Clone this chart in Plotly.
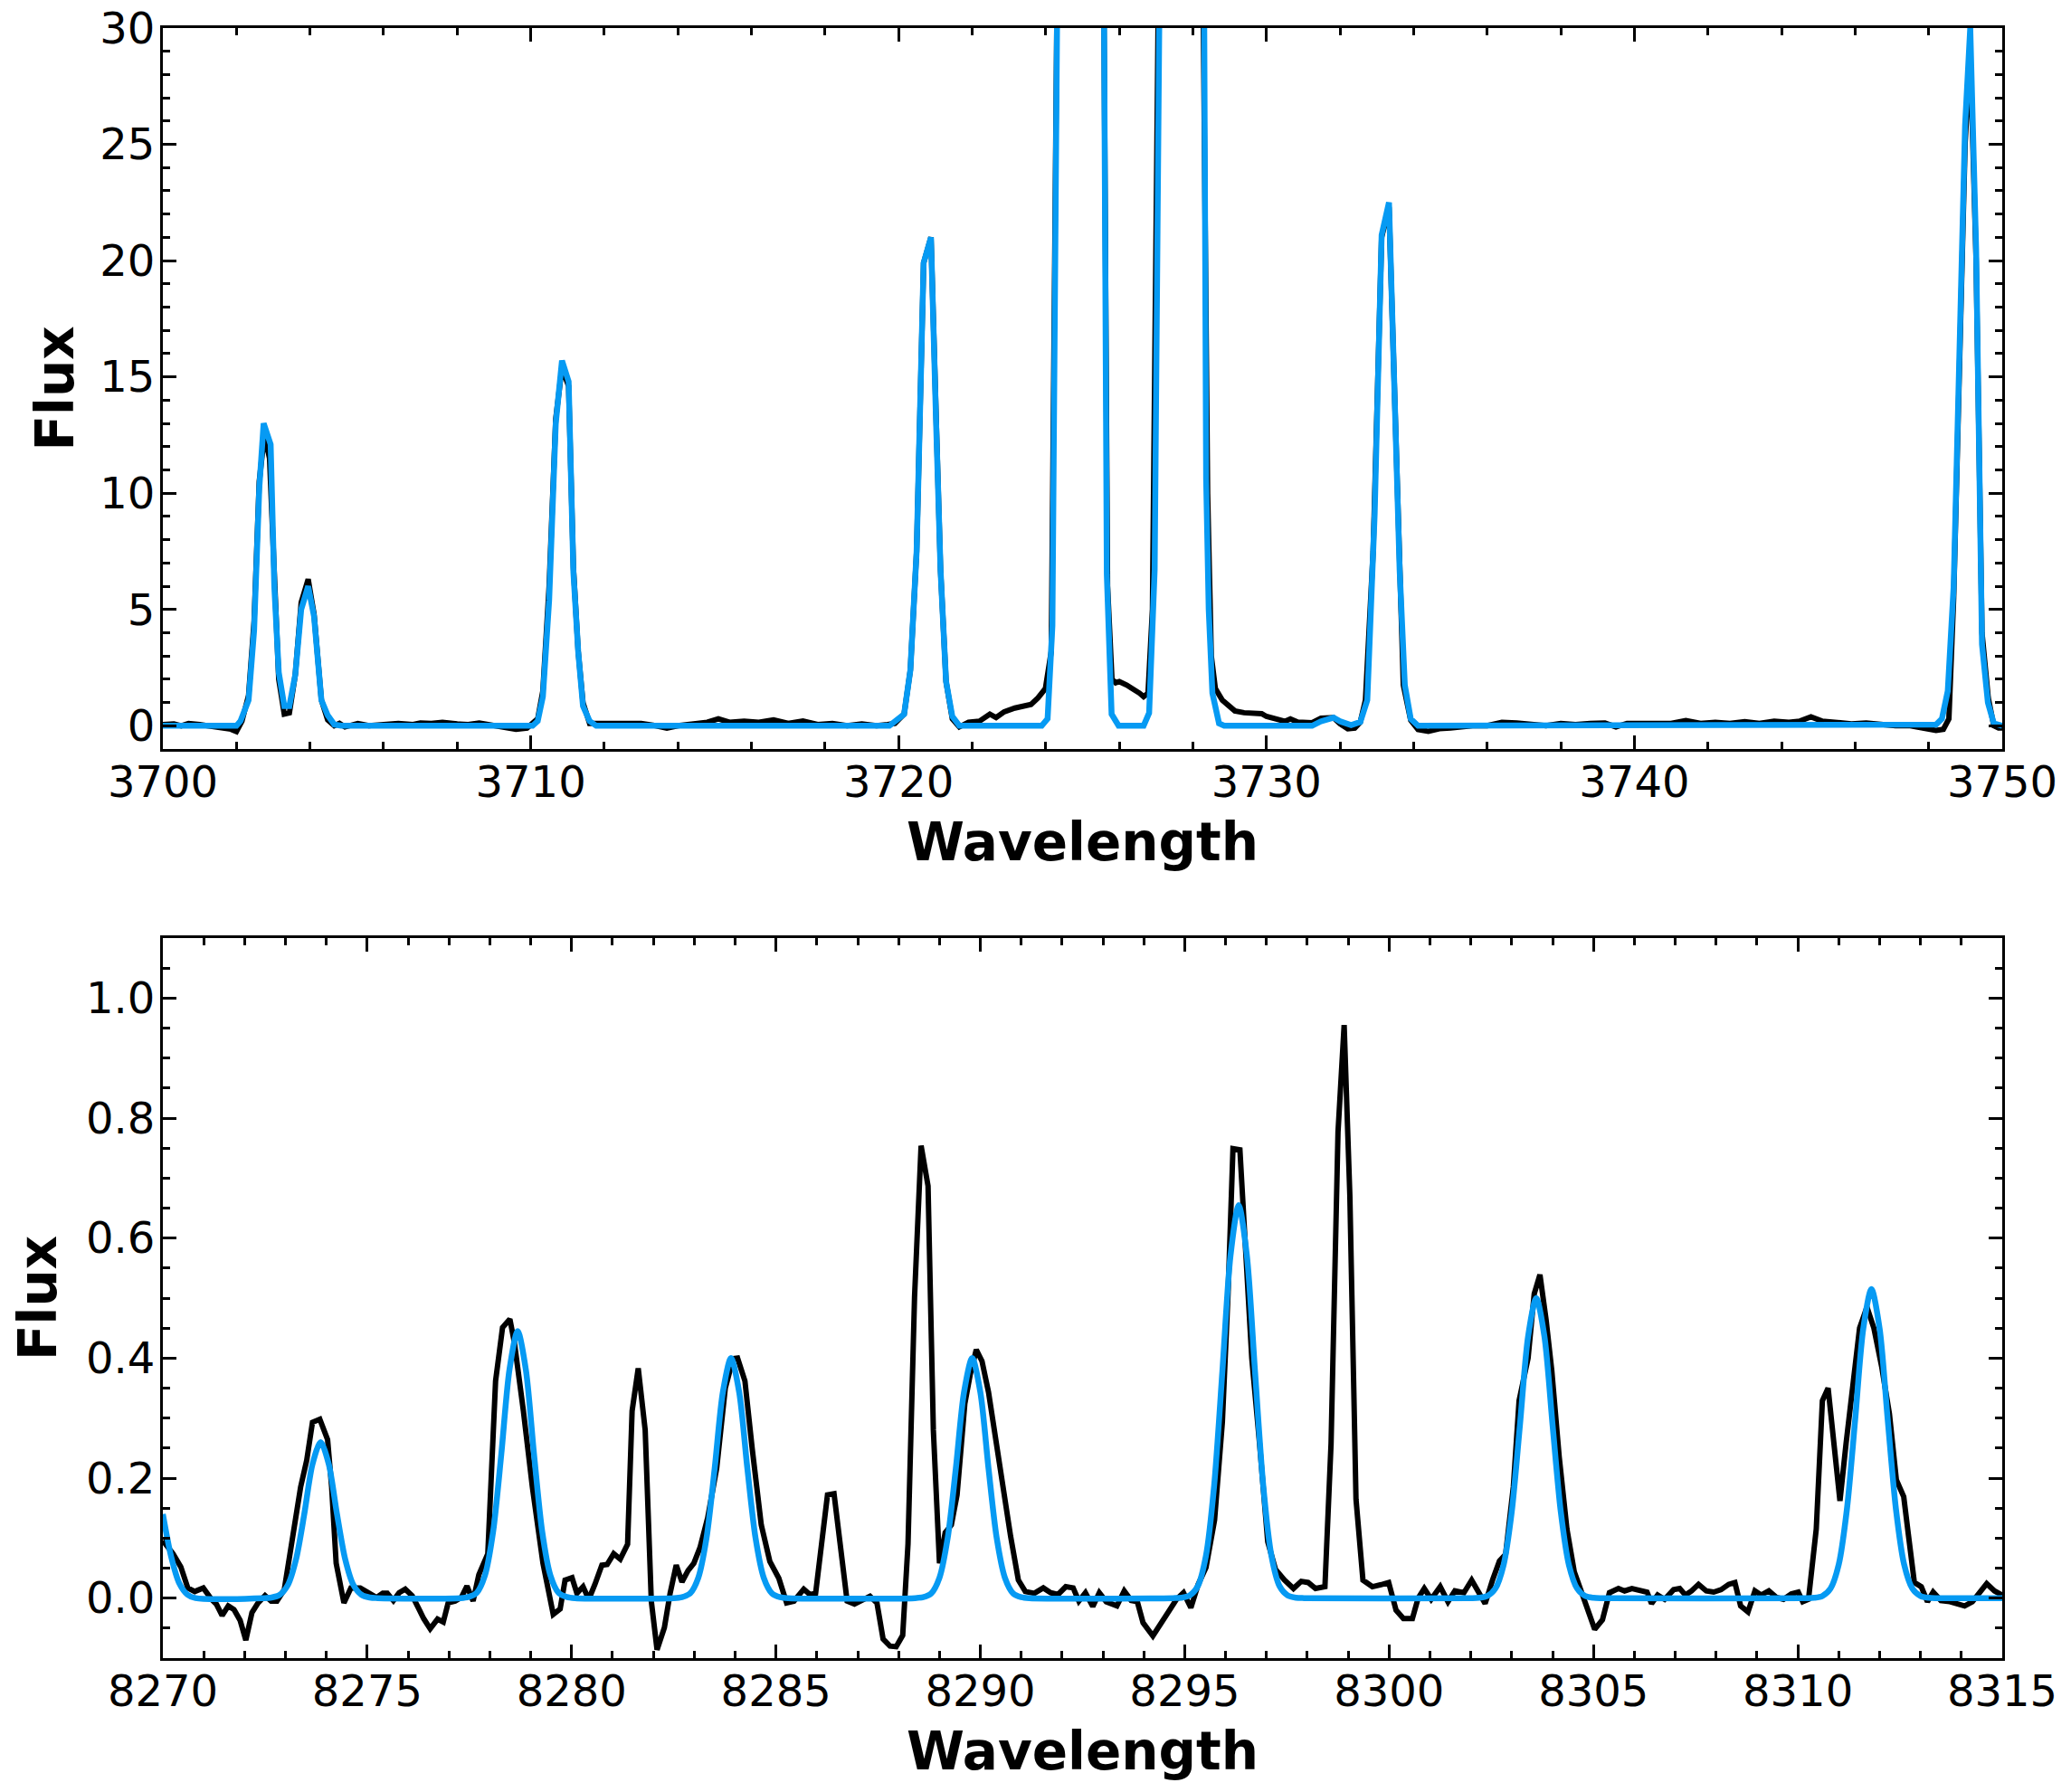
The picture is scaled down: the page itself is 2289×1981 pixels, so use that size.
import plotly.graph_objects as go
from plotly.subplots import make_subplots

# --- top panel: [OII] 3727 region ---
top_wave_obs = [
    3700.0, 3700.3, 3700.5, 3700.7, 3701.0, 3701.3, 3701.6, 3701.85, 3702.0, 3702.15,
    3702.33, 3702.48, 3702.62, 3702.76, 3702.9, 3703.03, 3703.15, 3703.3, 3703.44, 3703.6,
    3703.76, 3703.95, 3704.11, 3704.31, 3704.48, 3704.66, 3704.8, 3704.95, 3705.3, 3705.6,
    3706.0, 3706.4, 3706.8, 3707.0, 3707.3, 3707.6, 3708.0, 3708.3, 3708.6, 3709.0,
    3709.3, 3709.6, 3709.9, 3710.05, 3710.19, 3710.33, 3710.5, 3710.68, 3710.85, 3711.03,
    3711.16, 3711.29, 3711.42, 3711.6, 3711.75, 3712.0, 3712.3, 3712.6, 3713.0, 3713.4,
    3713.7, 3714.0, 3714.4, 3714.8, 3715.1, 3715.4, 3715.8, 3716.2, 3716.6, 3717.0,
    3717.4, 3717.8, 3718.2, 3718.6, 3719.0, 3719.4, 3719.7, 3719.9, 3720.15, 3720.32,
    3720.49, 3720.68, 3720.88, 3721.02, 3721.14, 3721.29, 3721.46, 3721.65, 3721.9, 3722.2,
    3722.48, 3722.65, 3722.87, 3723.16, 3723.4, 3723.6, 3723.79, 3723.99, 3724.15, 3724.3,
    3724.5, 3724.7, 3724.95, 3725.2, 3725.4, 3725.58, 3725.68, 3725.8, 3725.9, 3726.0,
    3726.2, 3726.37, 3726.55, 3726.66, 3726.78, 3726.9, 3727.05, 3727.3, 3727.55, 3727.8,
    3728.05, 3728.27, 3728.4, 3728.5, 3728.61, 3728.8, 3729.0, 3729.14, 3729.39, 3729.87,
    3730.0, 3730.26, 3730.5, 3730.65, 3730.85, 3731.24, 3731.48, 3731.82, 3732.0, 3732.21,
    3732.4, 3732.55, 3732.69, 3732.9, 3733.13, 3733.33, 3733.47, 3733.6, 3733.72, 3733.92,
    3734.12, 3734.4, 3734.7, 3735.0, 3735.3, 3735.6, 3736.0, 3736.4, 3736.8, 3737.2,
    3737.6, 3738.0, 3738.4, 3738.8, 3739.2, 3739.5, 3739.8, 3740.2, 3740.6, 3741.0,
    3741.4, 3741.8, 3742.2, 3742.6, 3743.0, 3743.4, 3743.8, 3744.2, 3744.5, 3744.8,
    3745.1, 3745.5, 3745.9, 3746.3, 3746.7, 3747.1, 3747.5, 3747.9, 3748.2, 3748.4,
    3748.55, 3748.68, 3748.99, 3749.13, 3749.29, 3749.45, 3749.62, 3749.77, 3749.9, 3750.0,
]
top_flux_obs = [
    0.05, 0.08, 0.0, 0.1, 0.05, 0.0, -0.05, -0.15, -0.25, 0.2,
    1.3, 4.5, 10.5, 12.5, 11.5, 6.0, 2.0, 0.5, 0.55, 2.2,
    5.3, 6.3, 4.8, 1.1, 0.25, 0.0, 0.1, -0.05, 0.1, 0.0,
    0.05, 0.1, 0.05, 0.12, 0.1, 0.15, 0.08, 0.05, 0.12, 0.0,
    -0.1, -0.15, -0.1, 0.1, 0.3, 1.5, 6.0, 13.2, 15.4, 14.6,
    6.8, 3.2, 1.0, 0.1, 0.1, 0.05, 0.1, 0.05, 0.1, 0.0,
    -0.1, 0.0, 0.1, 0.15, 0.3, 0.15, 0.2, 0.15, 0.25, 0.1,
    0.2, 0.05, 0.1, 0.0, 0.08, 0.0, 0.05, 0.1, 0.5, 2.4,
    7.5, 19.9, 21.0, 13.0, 6.7, 1.9, 0.3, -0.05, 0.15, 0.2,
    0.5, 0.35, 0.6, 0.76, 0.87, 0.92, 1.2, 1.6, 3.2, 32.0,
    66.0, 88.0, 96.0, 86.0, 61.0, 31.0, 6.0, 2.0, 1.85, 1.9,
    1.75, 1.6, 1.4, 1.25, 1.4, 5.0, 30.0, 71.0, 96.0, 96.0,
    71.0, 31.0, 10.0, 3.0, 1.6, 1.1, 0.87, 0.64, 0.56, 0.52,
    0.4, 0.32, 0.19, 0.29, 0.16, 0.13, 0.32, 0.35, 0.08, -0.13,
    -0.1, 0.16, 1.1, 7.5, 21.0, 22.3, 15.4, 7.5, 1.75, 0.24,
    -0.16, -0.24, -0.13, -0.1, -0.05, 0.0, 0.0, 0.15, 0.12, 0.05,
    0.0, 0.1, 0.05, 0.1, 0.12, -0.05, 0.1, 0.1, 0.12, 0.1,
    0.22, 0.1, 0.15, 0.1, 0.18, 0.1, 0.2, 0.15, 0.2, 0.38,
    0.2, 0.15, 0.08, 0.12, 0.05, 0.0, 0.0, -0.1, -0.2, -0.15,
    0.3, 5.5, 25.0, 29.0, 20.0, 4.0, 1.2, 0.0, -0.1, -0.1,
]

top_wave_fit = [
    3700.0, 3702.0, 3702.11, 3702.33, 3702.48, 3702.62, 3702.74, 3702.93, 3703.03, 3703.15,
    3703.3, 3703.44, 3703.6, 3703.76, 3703.95, 3704.11, 3704.31, 3704.48, 3704.66, 3704.85,
    3710.05, 3710.19, 3710.33, 3710.5, 3710.68, 3710.85, 3711.03, 3711.16, 3711.29, 3711.42,
    3711.6, 3711.78, 3719.75, 3719.9, 3720.15, 3720.32, 3720.49, 3720.68, 3720.88, 3721.02,
    3721.14, 3721.29, 3721.46, 3721.65, 3723.89, 3724.05, 3724.18, 3724.33, 3724.5, 3724.7,
    3724.95, 3725.2, 3725.4, 3725.58, 3725.66, 3725.79, 3725.98, 3726.66, 3726.81, 3726.96,
    3727.1, 3727.3, 3727.55, 3727.8, 3728.05, 3728.3, 3728.36, 3728.43, 3728.53, 3728.71,
    3728.85, 3731.24, 3731.48, 3731.82, 3732.0, 3732.3, 3732.55, 3732.74, 3732.94, 3733.13,
    3733.33, 3733.47, 3733.62, 3733.76, 3733.92, 3734.12, 3747.8, 3748.2, 3748.36, 3748.52,
    3748.68, 3748.99, 3749.13, 3749.29, 3749.45, 3749.61, 3749.77, 3750.0,
]
top_flux_fit = [
    0.0, 0.0, 0.2, 1.1, 4.1, 10.2, 13.0, 12.1, 6.0, 2.3,
    0.85, 0.85, 2.2, 5.0, 6.0, 4.7, 1.1, 0.45, 0.05, 0.0,
    0.0, 0.2, 1.25, 5.4, 13.0, 15.7, 14.8, 6.6, 3.2, 0.85,
    0.2, 0.0, 0.0, 0.16, 0.5, 2.4, 7.5, 19.9, 21.0, 13.0,
    6.7, 1.9, 0.4, 0.0, 0.0, 0.3, 4.3, 35.0, 65.0, 88.0,
    95.0, 85.0, 60.0, 32.0, 6.5, 0.5, 0.0, 0.0, 0.55, 6.7,
    33.0, 70.0, 95.0, 95.0, 70.0, 33.0, 10.6, 5.0, 1.4, 0.1,
    0.0, 0.0, 0.19, 0.35, 0.19, 0.03, 0.16, 1.1, 9.1, 21.1,
    22.5, 15.4, 6.7, 1.75, 0.3, 0.0, 0.0, 0.05, 0.3, 1.5,
    6.0, 25.8, 30.0, 20.5, 3.5, 1.0, 0.1, 0.0,
]

# --- bottom panel: Paschen region ---
bot_wave_obs = [
    8270.0, 8270.25, 8270.44, 8270.61, 8270.78, 8270.99, 8271.19, 8271.31, 8271.45, 8271.6,
    8271.74, 8271.89, 8272.03, 8272.18, 8272.33, 8272.5, 8272.65, 8272.79, 8272.97, 8273.15,
    8273.37, 8273.52, 8273.66, 8273.84, 8274.03, 8274.13, 8274.24, 8274.43, 8274.6, 8274.83,
    8275.04, 8275.23, 8275.38, 8275.49, 8275.64, 8275.78, 8275.93, 8276.1, 8276.25, 8276.38,
    8276.54, 8276.72, 8276.86, 8276.98, 8277.15, 8277.3, 8277.44, 8277.59, 8277.73, 8277.95,
    8278.14, 8278.31, 8278.49, 8278.6, 8278.82, 8279.04, 8279.3, 8279.55, 8279.72, 8279.84,
    8280.01, 8280.13, 8280.28, 8280.42, 8280.57, 8280.74, 8280.87, 8281.03, 8281.19, 8281.37,
    8281.48, 8281.63, 8281.8, 8281.95, 8282.09, 8282.27, 8282.41, 8282.56, 8282.7, 8282.85,
    8282.99, 8283.14, 8283.33, 8283.55, 8283.76, 8283.95, 8284.06, 8284.24, 8284.42, 8284.64,
    8284.85, 8285.07, 8285.26, 8285.44, 8285.68, 8285.83, 8285.97, 8286.13, 8286.26, 8286.42,
    8286.57, 8286.74, 8286.92, 8287.11, 8287.3, 8287.47, 8287.62, 8287.79, 8287.94, 8288.1,
    8288.23, 8288.39, 8288.55, 8288.72, 8288.85, 8289.0, 8289.14, 8289.29, 8289.43, 8289.62,
    8289.75, 8289.9, 8290.04, 8290.2, 8290.38, 8290.55, 8290.74, 8290.93, 8291.1, 8291.32,
    8291.54, 8291.72, 8291.9, 8292.09, 8292.27, 8292.41, 8292.57, 8292.75, 8292.91, 8293.08,
    8293.34, 8293.52, 8293.69, 8293.84, 8293.98, 8294.22, 8294.39, 8294.61, 8294.8, 8294.97,
    8295.15, 8295.33, 8295.52, 8295.73, 8295.92, 8296.06, 8296.18, 8296.35, 8296.5, 8296.64,
    8296.83, 8297.03, 8297.22, 8297.44, 8297.66, 8297.85, 8298.02, 8298.2, 8298.43, 8298.58,
    8298.75, 8298.9, 8299.04, 8299.19, 8299.36, 8299.59, 8299.84, 8299.99, 8300.17, 8300.35,
    8300.57, 8300.71, 8300.86, 8301.03, 8301.25, 8301.44, 8301.61, 8301.83, 8302.02, 8302.19,
    8302.35, 8302.53, 8302.7, 8302.85, 8303.04, 8303.18, 8303.4, 8303.55, 8303.69, 8303.84,
    8303.98, 8304.16, 8304.35, 8304.53, 8304.74, 8304.88, 8305.03, 8305.22, 8305.39, 8305.61,
    8305.76, 8305.94, 8306.11, 8306.31, 8306.42, 8306.57, 8306.74, 8306.96, 8307.11, 8307.25,
    8307.4, 8307.57, 8307.76, 8307.94, 8308.12, 8308.31, 8308.46, 8308.6, 8308.78, 8308.95,
    8309.1, 8309.29, 8309.48, 8309.65, 8309.84, 8310.01, 8310.12, 8310.26, 8310.45, 8310.6,
    8310.74, 8310.89, 8311.03, 8311.18, 8311.36, 8311.51, 8311.69, 8311.86, 8312.05, 8312.24,
    8312.41, 8312.59, 8312.7, 8312.85, 8313.02, 8313.17, 8313.31, 8313.5, 8313.72, 8313.89,
    8314.08, 8314.27, 8314.45, 8314.62, 8314.81, 8315.0,
]
bot_flux_obs = [
    0.096, 0.074, 0.052, 0.017, 0.011, 0.017, -0.002, -0.01, -0.029, -0.013,
    -0.019, -0.037, -0.07, -0.024, -0.008, 0.004, -0.005, -0.005, 0.014, 0.09,
    0.185, 0.23, 0.293, 0.298, 0.264, 0.185, 0.058, -0.008, 0.017, 0.017,
    0.008, 0.001, 0.008, 0.008, -0.004, 0.009, 0.015, 0.004, -0.016, -0.034,
    -0.051, -0.035, -0.04, -0.008, -0.005, 0.001, 0.02, -0.005, 0.039, 0.074,
    0.362, 0.451, 0.465, 0.426, 0.312, 0.185, 0.058, -0.027, -0.018, 0.03,
    0.034, 0.008, 0.019, -0.002, 0.023, 0.055, 0.056, 0.074, 0.065, 0.09,
    0.312, 0.383, 0.28, -0.005, -0.086, -0.049, 0.008, 0.055, 0.027, 0.046,
    0.058, 0.084, 0.134, 0.217, 0.35, 0.399, 0.4, 0.362, 0.248, 0.122,
    0.061, 0.033, -0.008, -0.005, 0.015, 0.006, 0.008, 0.103, 0.172, 0.174,
    0.096, -0.005, -0.01, -0.004, 0.003, -0.008, -0.068, -0.08, -0.081, -0.062,
    0.09, 0.502, 0.754, 0.687, 0.28, 0.058, 0.109, 0.122, 0.172, 0.324,
    0.372, 0.414, 0.395, 0.343, 0.261, 0.185, 0.103, 0.03, 0.011, 0.008,
    0.017, 0.009, 0.006, 0.019, 0.017, -0.005, 0.009, -0.014, 0.009, -0.006,
    -0.013, 0.012, -0.004, -0.006, -0.041, -0.063, -0.045, -0.023, -0.002, 0.009,
    -0.016, 0.023, 0.051, 0.13, 0.293, 0.507, 0.749, 0.747, 0.578, 0.4,
    0.258, 0.094, 0.048, 0.03, 0.016, 0.028, 0.026, 0.016, 0.019, 0.258,
    0.777, 0.955, 0.67, 0.165, 0.03, 0.019, 0.023, 0.026, -0.02, -0.034,
    -0.034, 0.0, 0.016, -0.002, 0.019, -0.006, 0.012, 0.009, 0.03, 0.012,
    -0.009, 0.03, 0.062, 0.073, 0.186, 0.329, 0.4, 0.507, 0.539, 0.464,
    0.379, 0.236, 0.115, 0.044, 0.005, -0.027, -0.052, -0.036, 0.009, 0.016,
    0.012, 0.016, 0.014, 0.01, -0.009, 0.005, -0.002, 0.014, 0.016, 0.005,
    0.012, 0.023, 0.012, 0.01, 0.014, 0.023, 0.026, -0.013, -0.023, 0.012,
    0.005, 0.012, 0.001, -0.002, 0.007, 0.01, -0.006, -0.002, 0.115, 0.329,
    0.35, 0.258, 0.162, 0.258, 0.364, 0.45, 0.485, 0.45, 0.386, 0.307,
    0.197, 0.169, 0.108, 0.026, 0.019, -0.006, 0.01, -0.004, -0.006, -0.009,
    -0.013, -0.006, 0.01, 0.024, 0.012, 0.005,
]

bot_wave_fit = [
    8270.0, 8270.2, 8270.4, 8270.6, 8270.8,
    8272.46, 8272.66, 8272.86, 8273.06, 8273.26, 8273.46, 8273.66, 8273.86,
    8274.06, 8274.26, 8274.46, 8274.66, 8274.86, 8275.06, 8275.26,
    8277.28, 8277.48, 8277.68, 8277.88, 8278.08, 8278.28, 8278.48, 8278.68,
    8278.88, 8279.08, 8279.28, 8279.48, 8279.68, 8279.88, 8280.08,
    8282.5, 8282.7, 8282.9, 8283.1, 8283.3, 8283.5, 8283.7, 8283.9,
    8284.1, 8284.3, 8284.5, 8284.7, 8284.9, 8285.1, 8285.3,
    8288.4, 8288.6, 8288.8, 8289.0, 8289.2, 8289.4, 8289.6, 8289.8,
    8290.0, 8290.2, 8290.4, 8290.6, 8290.8, 8291.0, 8291.2,
    8294.72, 8294.92, 8295.12, 8295.32, 8295.52, 8295.72, 8295.92, 8296.12, 8296.32,
    8296.52, 8296.72, 8296.92, 8297.12, 8297.32, 8297.52, 8297.72, 8297.92,
    8302.0, 8302.2, 8302.4, 8302.6, 8302.8, 8303.0, 8303.2, 8303.4, 8303.6,
    8303.8, 8304.0, 8304.2, 8304.4, 8304.6, 8304.8, 8305.0, 8305.2,
    8310.2, 8310.4, 8310.6, 8310.8, 8311.0, 8311.2, 8311.4, 8311.6, 8311.8,
    8312.0, 8312.2, 8312.4, 8312.6, 8312.8, 8313.0, 8313.2, 8313.4, 8315.0,
]
bot_flux_fit = [
    0.14, 0.07, 0.025, 0.006, 0.0,
    0.0, 0.001, 0.0055, 0.022, 0.065, 0.140, 0.223, 0.26,
    0.223, 0.140, 0.065, 0.022, 0.0055, 0.001, 0.0,
    0.0, 0.002, 0.009, 0.038, 0.111, 0.240, 0.381, 0.445,
    0.381, 0.240, 0.111, 0.038, 0.009, 0.002, 0.0,
    0.0, 0.0016, 0.008, 0.034, 0.100, 0.216, 0.343, 0.40,
    0.343, 0.216, 0.100, 0.034, 0.008, 0.0016, 0.0,
    0.0, 0.0016, 0.008, 0.034, 0.100, 0.216, 0.343, 0.40,
    0.343, 0.216, 0.100, 0.034, 0.008, 0.0016, 0.0,
    0.0, 0.0007, 0.0045, 0.020, 0.071, 0.188, 0.377, 0.571, 0.655,
    0.571, 0.377, 0.188, 0.071, 0.020, 0.0045, 0.0007, 0.0,
    0.0, 0.0006, 0.0034, 0.016, 0.055, 0.144, 0.288, 0.436, 0.50,
    0.436, 0.288, 0.144, 0.055, 0.016, 0.0034, 0.0006, 0.0,
    0.0, 0.0006, 0.0035, 0.016, 0.056, 0.148, 0.296, 0.449, 0.515,
    0.449, 0.296, 0.148, 0.056, 0.016, 0.0035, 0.0006, 0.0, 0.0,
]

assert len(top_wave_obs) == len(top_flux_obs)
assert len(top_wave_fit) == len(top_flux_fit)
assert len(bot_wave_obs) == len(bot_flux_obs)
assert len(bot_wave_fit) == len(bot_flux_fit)

OBS_COLOR = "black"
FIT_COLOR = "#069AF3"
OBS_W = 6
FIT_W = 6.5
FONT = "DejaVu Sans"
TICK_SIZE = 48
TITLE_SIZE = 58

# the page body adds an 8 px offset, so margins are trimmed on the left/top
W, H = 2289, 1981
PAGE_OFF = 8
M_L, M_R, M_T, M_B = 180 - PAGE_OFF, 76 + PAGE_OFF, 31 - PAGE_OFF, 148 + PAGE_OFF
plot_h = H - M_T - M_B
top_bottom_px = 828 - PAGE_OFF
bot_top_px = 1037 - PAGE_OFF

fig = make_subplots(rows=2, cols=1)

fig.add_trace(go.Scatter(x=top_wave_obs, y=top_flux_obs, mode="lines",
                         line=dict(color=OBS_COLOR, width=OBS_W)), row=1, col=1)
fig.add_trace(go.Scatter(x=top_wave_fit, y=top_flux_fit, mode="lines",
                         line=dict(color=FIT_COLOR, width=FIT_W)), row=1, col=1)
fig.add_trace(go.Scatter(x=bot_wave_obs, y=bot_flux_obs, mode="lines",
                         line=dict(color=OBS_COLOR, width=OBS_W)), row=2, col=1)
fig.add_trace(go.Scatter(x=bot_wave_fit, y=bot_flux_fit, mode="lines",
                         line=dict(color=FIT_COLOR, width=FIT_W, shape="spline", smoothing=0.8)),
              row=2, col=1)

axis_style = dict(
    showline=True, linewidth=3, linecolor="black", mirror="ticks",
    ticks="inside", ticklen=15, tickwidth=3, tickcolor="black",
    showgrid=False, zeroline=False, ticklabeloverflow="allow",
    tickfont=dict(family=FONT, size=TICK_SIZE, color="black"),
    title_font=dict(family=FONT, size=TITLE_SIZE, color="black", weight="bold"),
)
minor_style = dict(ticks="inside", ticklen=8, tickwidth=3, tickcolor="black", showgrid=False)

fig.update_xaxes(**axis_style)
fig.update_yaxes(**axis_style)

fig.update_xaxes(range=[3700, 3750], tick0=3700, dtick=10, minor=dict(dtick=2, **minor_style),
                 ticklabelstandoff=-8,
                 title_text="Wavelength", title_standoff=20, row=1, col=1)
fig.update_yaxes(range=[-1, 30], tick0=0, dtick=5, minor=dict(dtick=1, **minor_style),
                 ticklabelstandoff=-4,
                 title_text="Flux", title_standoff=11, row=1, col=1)
fig.update_xaxes(range=[8270, 8315], tick0=8270, dtick=5, minor=dict(dtick=1, **minor_style),
                 ticklabelstandoff=-8,
                 title_text="Wavelength", title_standoff=20, row=2, col=1)
fig.update_yaxes(range=[-0.1, 1.1], tick0=0, dtick=0.2, tickformat=".1f",
                 minor=dict(dtick=0.05, **minor_style),
                 ticklabelstandoff=-4,
                 title_text="Flux", title_standoff=21, row=2, col=1)

fig.update_layout(
    width=W, height=H,
    margin=dict(l=M_L, r=M_R, t=M_T, b=M_B, autoexpand=False),
    plot_bgcolor="white", paper_bgcolor="white",
    showlegend=False,
    yaxis=dict(domain=[(H - M_B - top_bottom_px) / plot_h, 1.0]),
    yaxis2=dict(domain=[0.0, (H - M_B - bot_top_px) / plot_h]),
    xaxis=dict(domain=[0, 1]), xaxis2=dict(domain=[0, 1]),
    font=dict(family=FONT, color="black"),
)

fig.write_html("out.html")
